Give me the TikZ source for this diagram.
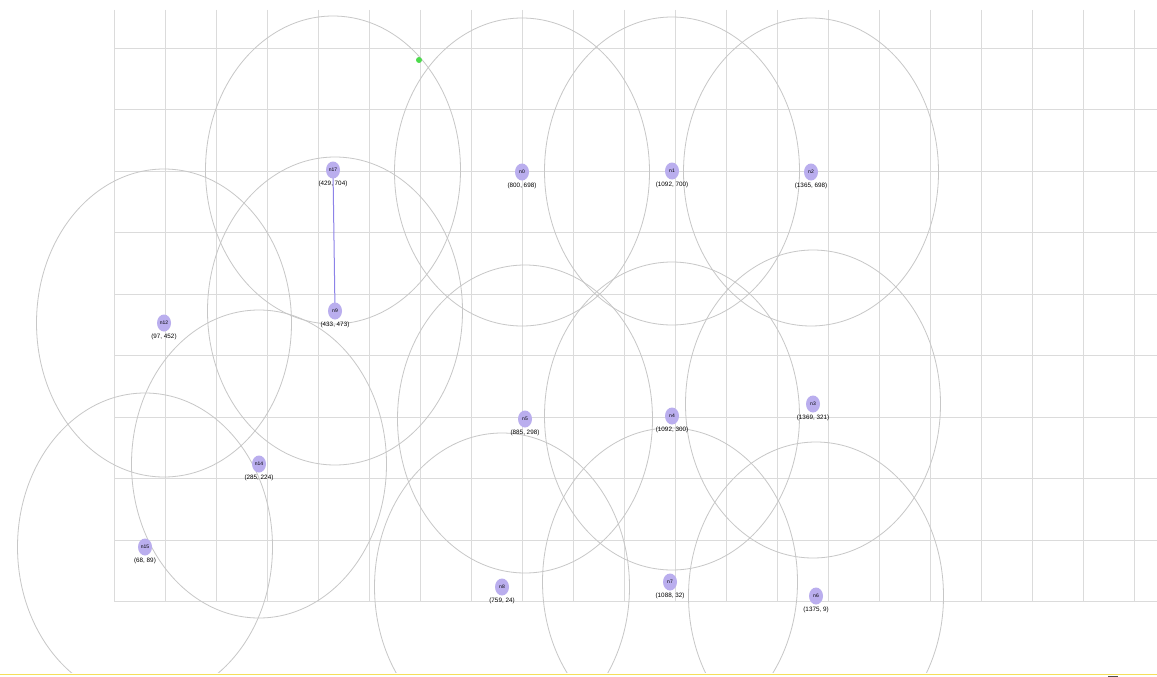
\documentclass[tikz,border=0pt]{standalone}
\usepackage{fontspec}
\setmainfont{Liberation Sans}
\usetikzlibrary{shapes.geometric}
\definecolor{nodefill}{RGB}{186,174,238}
\definecolor{linkcol}{RGB}{140,130,232}
\definecolor{yel}{RGB}{245,222,90}
\begin{document}
\begin{tikzpicture}[x=1pt,y=-1pt,
  gridline/.style={draw=black!14, line width=0.8pt},
  rangecirc/.style={draw=black!22, line width=0.8pt},
  nd/.style={ellipse, fill=nodefill, minimum width=14pt, minimum height=17pt, inner sep=0pt, font=\fontsize{5}{6}\selectfont},
  lbl/.style={font=\fontsize{6.3}{7}\selectfont, inner sep=0pt},
  link/.style={draw=linkcol, line width=1pt}]
\useasboundingbox (0,0) rectangle (1157,677);
\fill[white] (0,0) rectangle (1157,677);
% grid
\foreach \i in {0,...,20} \draw[gridline] (114+51*\i,10) -- (114+51*\i,601);
\foreach \j in {0,...,9} \draw[gridline] (114,48+61.5*\j) -- (1157,48+61.5*\j);
% node positions
\foreach \n/\x/\y in {n17/333/170, n0/522/172, n1/672/171, n2/811/172, n12/164/323, n9/335/311, n5/525/419, n4/672/416, n3/813/404, n14/259/464, n15/145/547, n8/502/587, n7/670/582, n6/816/596}
  \coordinate (c\n) at (\x,\y);
% ranges
\begin{scope}
\clip (0,0) rectangle (1157,672);
\foreach \n in {n17,n0,n1,n2,n12,n9,n5,n4,n3,n14,n15,n8,n7,n6}
  \draw[rangecirc] (c\n) ellipse [x radius=127.5, y radius=154];
\end{scope}
\draw[link] (cn17) -- (cn9);
% nodes
\foreach \n/\t in {n17/{(429, 704)}, n0/{(800, 698)}, n1/{(1092, 700)}, n2/{(1365, 698)}, n12/{(97, 452)}, n9/{(433, 473)}, n5/{(885, 298)}, n4/{(1092, 300)}, n3/{(1369, 321)}, n14/{(285, 224)}, n15/{(68, 89)}, n8/{(759, 24)}, n7/{(1088, 32)}, n6/{(1375, 9)}} {
  \node[nd] (\n) at (c\n) {\n};
  \node[lbl] (l\n) at ([yshift=-14pt]c\n) {\t};
}
\node[circle, fill=green!80!black!70, minimum size=6pt, inner sep=0pt] (g) at (419,60) {};
\draw[yel, line width=1.6pt] (0,674.5) -- (1157,674.5);
\draw[black!70, line width=1pt] (1108,676) -- (1118,676);
\end{tikzpicture}
\end{document}
